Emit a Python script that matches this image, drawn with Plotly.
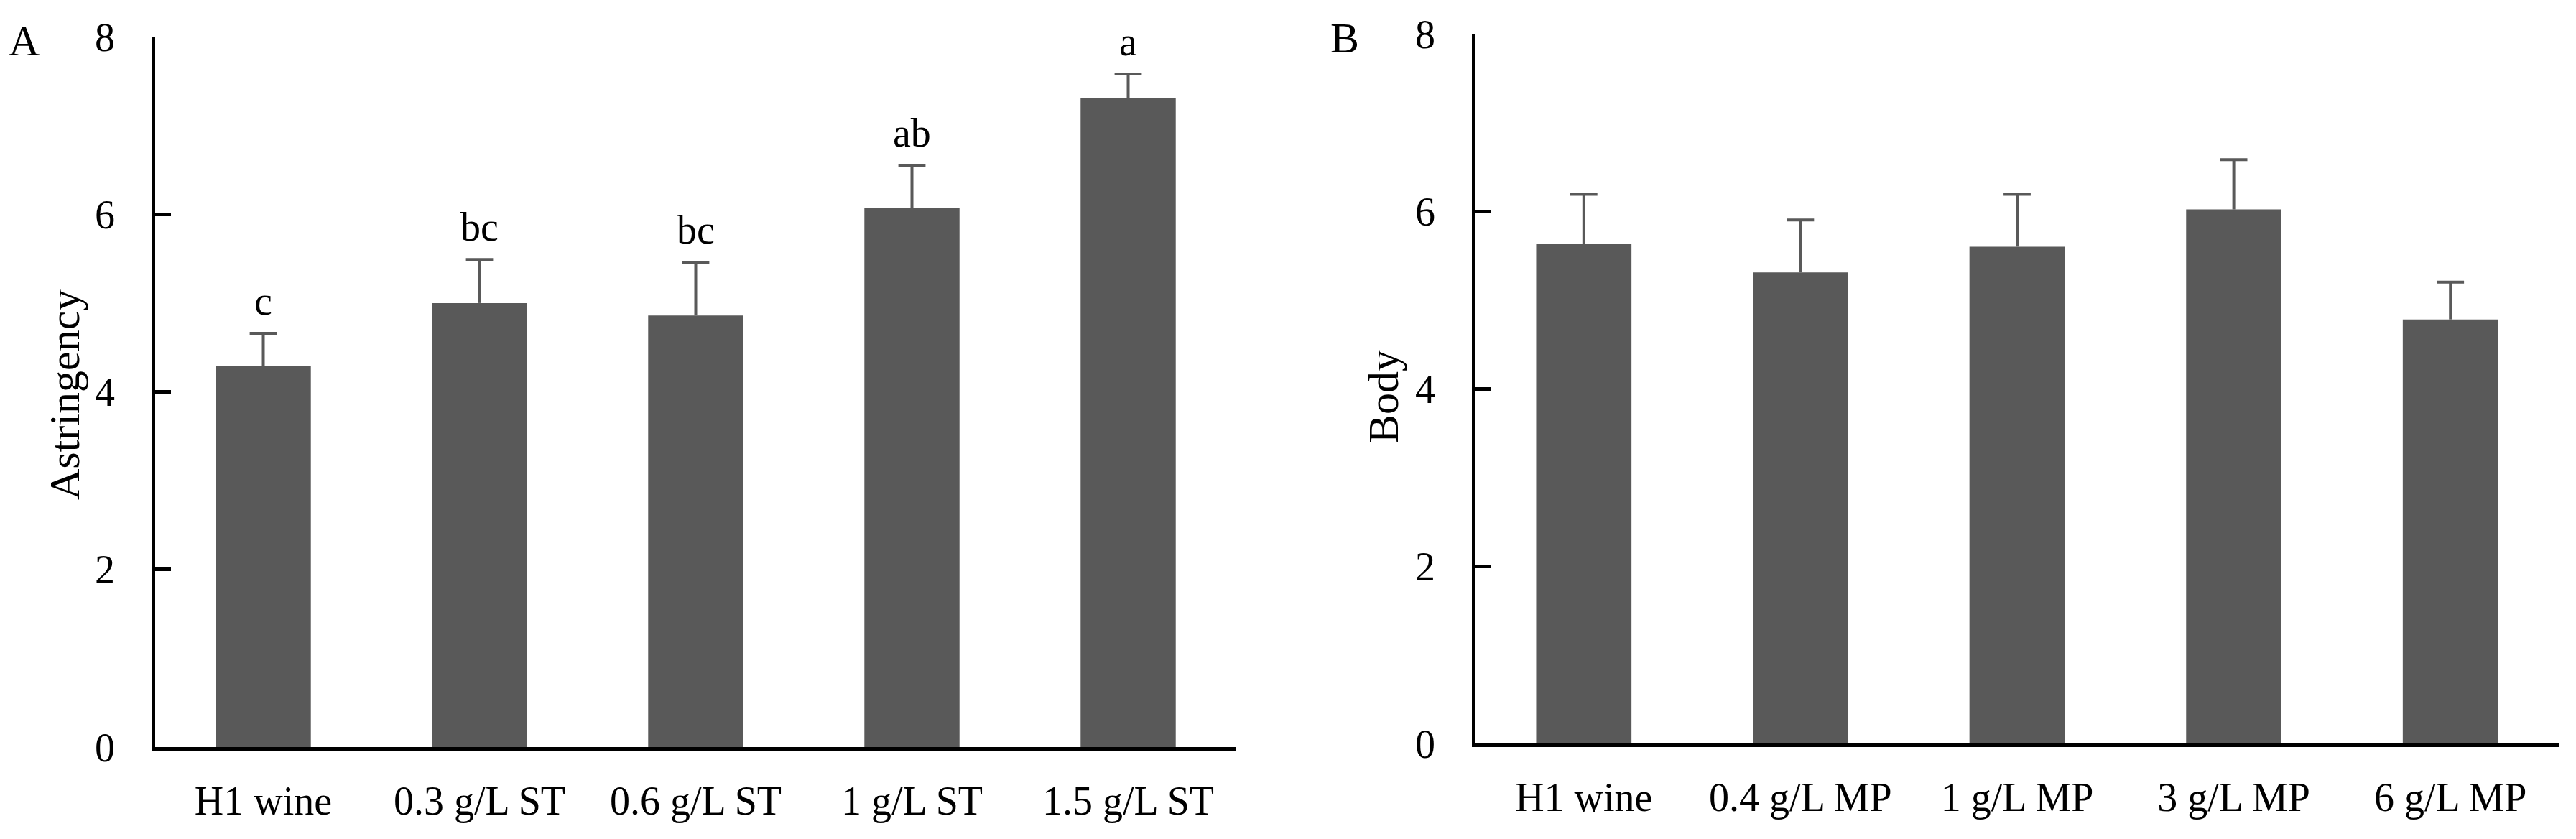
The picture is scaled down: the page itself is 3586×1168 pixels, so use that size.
import plotly.graph_objects as go
from plotly.subplots import make_subplots

# panel A: astringency with tannin (ST) additions
cats_a = ["H1 wine", "0.3 g/L ST", "0.6 g/L ST", "1 g/L ST", "1.5 g/L ST"]
astr_mean = [4.29, 5.00, 4.86, 6.07, 7.31]
astr_sd = [0.37, 0.49, 0.60, 0.48, 0.27]
astr_letters = ["c", "bc", "bc", "ab", "a"]

# panel B: body with mannoprotein (MP) additions
cats_b = ["H1 wine", "0.4 g/L MP", "1 g/L MP", "3 g/L MP", "6 g/L MP"]
body_mean = [5.63, 5.31, 5.60, 6.02, 4.78]
body_sd = [0.56, 0.59, 0.59, 0.56, 0.42]

y_ticks = [0, 2, 4, 6, 8]

W, H = 3586, 1168
OFF = 8  # page body margin
FONT = "Liberation Serif, Times New Roman, serif"
BAR = "#595959"


def px_x(p):
    return (p - OFF) / W


def px_y(p):
    return 1 - (p - OFF) / H


fig = make_subplots(rows=1, cols=2)


def add_panel(cats, mean, sd, col):
    fig.add_trace(
        go.Bar(x=cats, y=mean, marker=dict(color=BAR, line=dict(width=0)),
               showlegend=False),
        row=1, col=col,
    )
    # upper-only error whiskers, no cap at the bar top
    sx, sy = [], []
    for c, m, s in zip(cats, mean, sd):
        sx += [c, c, None]
        sy += [m, m + s, None]
    fig.add_trace(
        go.Scatter(x=sx, y=sy, mode="lines", line=dict(color=BAR, width=4),
                   showlegend=False, hoverinfo="skip"),
        row=1, col=col,
    )
    fig.add_trace(
        go.Scatter(
            x=cats, y=[m + s for m, s in zip(mean, sd)], mode="markers",
            marker=dict(symbol="line-ew", size=27, line=dict(color=BAR, width=4)),
            showlegend=False, hoverinfo="skip",
        ),
        row=1, col=col,
    )


add_panel(cats_a, astr_mean, astr_sd, 1)
add_panel(cats_b, body_mean, body_sd, 2)

# significance letters above the error bars in panel A
for c, m, s, lab in zip(cats_a, astr_mean, astr_sd, astr_letters):
    fig.add_annotation(
        x=c, y=m + s, xref="x", yref="y", text=lab, showarrow=False,
        yanchor="bottom", yshift=12, font=dict(family=FONT, size=56, color="black"),
    )

axis_common = dict(
    showline=True, linecolor="black", linewidth=4.5, mirror=False,
    showgrid=False, zeroline=False, automargin=False,
    tickfont=dict(family=FONT, size=56, color="black"),
)

fig.update_xaxes(ticks="", ticklabelstandoff=22, **axis_common)
fig.update_yaxes(
    range=[0, 8], tickvals=y_ticks, ticks="inside", ticklen=22, tickwidth=4.5,
    tickcolor="black", ticklabelstandoff=40, **axis_common,
)

fig.update_layout(
    width=W, height=H,
    margin=dict(l=0, r=0, t=0, b=0),
    paper_bgcolor="white", plot_bgcolor="white",
    bargap=0.56,
    xaxis=dict(domain=[px_x(216), px_x(1721)]),
    xaxis2=dict(domain=[px_x(2054), px_x(3562)]),
    yaxis=dict(domain=[px_y(1040), px_y(51)]),
    yaxis2=dict(domain=[px_y(1035), px_y(47)]),
)

# axis titles and panel letters
fig.add_annotation(
    x=px_x(90), y=px_y(550), xref="paper", yref="paper", text="Astringency",
    textangle=-90, xanchor="center", yanchor="middle", showarrow=False,
    font=dict(family=FONT, size=60, color="black"),
)
fig.add_annotation(
    x=px_x(1926), y=px_y(552), xref="paper", yref="paper", text="Body",
    textangle=-90, xanchor="center", yanchor="middle", showarrow=False,
    font=dict(family=FONT, size=60, color="black"),
)
fig.add_annotation(
    x=px_x(10), y=px_y(22), xref="paper", yref="paper", text="A",
    xanchor="left", yanchor="top", showarrow=False,
    font=dict(family=FONT, size=60, color="black"),
)
fig.add_annotation(
    x=px_x(1850), y=px_y(18), xref="paper", yref="paper", text="B",
    xanchor="left", yanchor="top", showarrow=False,
    font=dict(family=FONT, size=60, color="black"),
)

fig.write_html("out.html")
